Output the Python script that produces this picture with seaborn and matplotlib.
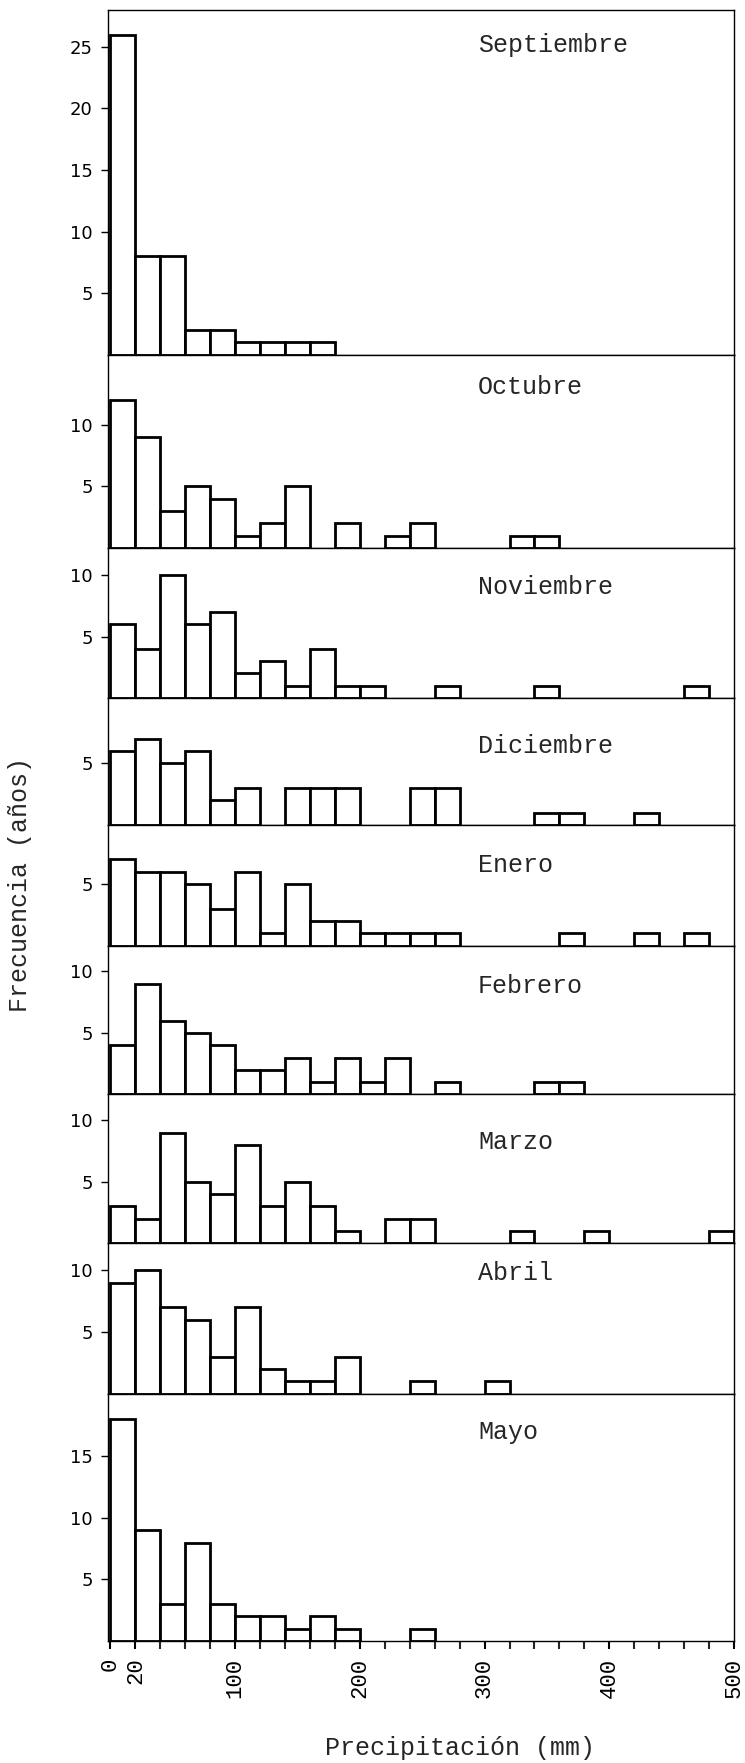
import numpy as np
import pandas as pd
import matplotlib
matplotlib.use("Agg")
import matplotlib.pyplot as plt
import seaborn as sns

# ------------------ Data (years per 20 mm class) ------------------
edges = np.arange(0, 520, 20)
centers = edges[:-1] + 10

months = ["Septiembre", "Octubre", "Noviembre", "Diciembre", "Enero",
          "Febrero", "Marzo", "Abril", "Mayo"]

septiembre = [26, 8, 8, 2, 2, 1, 1, 1, 1, 0, 0, 0, 0, 0, 0, 0, 0, 0, 0, 0, 0, 0, 0, 0, 0]
octubre = [12, 9, 3, 5, 4, 1, 2, 5, 0, 2, 0, 1, 2, 0, 0, 0, 1, 1, 0, 0, 0, 0, 0, 0, 0]
noviembre = [6, 4, 10, 6, 7, 2, 3, 1, 4, 1, 1, 0, 0, 1, 0, 0, 0, 1, 0, 0, 0, 0, 0, 1, 0]
diciembre = [6, 7, 5, 6, 2, 3, 0, 3, 3, 3, 0, 0, 3, 3, 0, 0, 0, 1, 1, 0, 0, 1, 0, 0, 0]
enero = [7, 6, 6, 5, 3, 6, 1, 5, 2, 2, 1, 1, 1, 1, 0, 0, 0, 0, 1, 0, 0, 1, 0, 1, 0]
febrero = [4, 9, 6, 5, 4, 2, 2, 3, 1, 3, 1, 3, 0, 1, 0, 0, 0, 1, 1, 0, 0, 0, 0, 0, 0]
marzo = [3, 2, 9, 5, 4, 8, 3, 5, 3, 1, 0, 2, 2, 0, 0, 0, 1, 0, 0, 1, 0, 0, 0, 0, 1]
abril = [9, 10, 7, 6, 3, 7, 2, 1, 1, 3, 0, 0, 1, 0, 0, 1, 0, 0, 0, 0, 0, 0, 0, 0, 0]
mayo = [18, 9, 3, 8, 3, 2, 2, 1, 2, 1, 0, 0, 1, 0, 0, 0, 0, 0, 0, 0, 0, 0, 0, 0, 0]

counts = [septiembre, octubre, noviembre, diciembre, enero,
          febrero, marzo, abril, mayo]

# panel y ranges and tick sets
ylims = [28.0, 15.7, 12.2, 10.3, 9.8, 12.1, 12.1, 12.2, 20.1]
yticks = [[5, 10, 15, 20, 25], [5, 10], [5, 10], [5], [5],
          [5, 10], [5, 10], [5, 10], [5, 10, 15]]
label_drop = [35, 32, 39, 48, 40, 40, 48, 30, 38]

xtick_pos = [0, 20, 100, 200, 300, 400, 500]
xtick_lab = ["0", "20", "100", "200", "300", "400", "500"]

# ------------------ Plot ------------------
sns.set_theme(style="white")
plt.rcParams["font.family"] = ["DejaVu Sans"]
mono = "Liberation Mono"

fig = plt.figure(figsize=(7.45, 17.63), dpi=100)
gs = fig.add_gridspec(len(months), 1, height_ratios=ylims, hspace=0,
                      left=108 / 745, right=734 / 745,
                      top=1 - 10 / 1763, bottom=1 - 1641 / 1763)

axes = []
for i, name in enumerate(months):
    ax = fig.add_subplot(gs[i], sharex=axes[0] if axes else None)
    axes.append(ax)
    df = pd.DataFrame({"mm": centers, "n": counts[i]})
    sns.histplot(data=df, x="mm", weights="n", binwidth=20, binrange=(0, 500),
                 ax=ax, color="white", edgecolor="black", linewidth=2.0, alpha=1)
    for p in ax.patches:
        if p.get_height() == 0:
            p.set_visible(False)
    ax.set_ylim(0, ylims[i])
    ax.set_yticks(yticks[i])
    ax.set_ylabel("")
    ax.set_xlabel("")
    for s in ax.spines.values():
        s.set_linewidth(1.0)
        s.set_color("black")
    ax.tick_params(axis="y", direction="out", length=5, width=1,
                   left=True, labelsize=13, pad=6, colors="black")
    ax.annotate(name, xy=(0.591, 1), xycoords="axes fraction",
                xytext=(0, -label_drop[i]), textcoords="offset pixels",
                ha="left", va="center", fontsize=18, family=mono)
    if i < len(months) - 1:
        ax.tick_params(axis="x", bottom=False, labelbottom=False)

axes[0].set_xlim(-2, 500)
last = axes[-1]
last.set_xticks(xtick_pos)
last.set_xticklabels(xtick_lab, rotation=90, family=mono)
last.set_xticks(np.arange(0, 520, 20), minor=True)
last.tick_params(axis="x", which="major", direction="out", length=6,
                 width=1.5, bottom=True, labelsize=16, pad=6, colors="black")
last.tick_params(axis="x", which="minor", direction="out", length=6,
                 width=1.5, bottom=True)

fig.text(20 / 745, 1 - 884 / 1763, "Frecuencia (años)", rotation=90,
         ha="center", va="center", fontsize=18, family=mono)
fig.text(460 / 745, 1 - 1748 / 1763, "Precipitación (mm)",
         ha="center", va="center", fontsize=18, family=mono)

fig.savefig("out.png", dpi=100)
